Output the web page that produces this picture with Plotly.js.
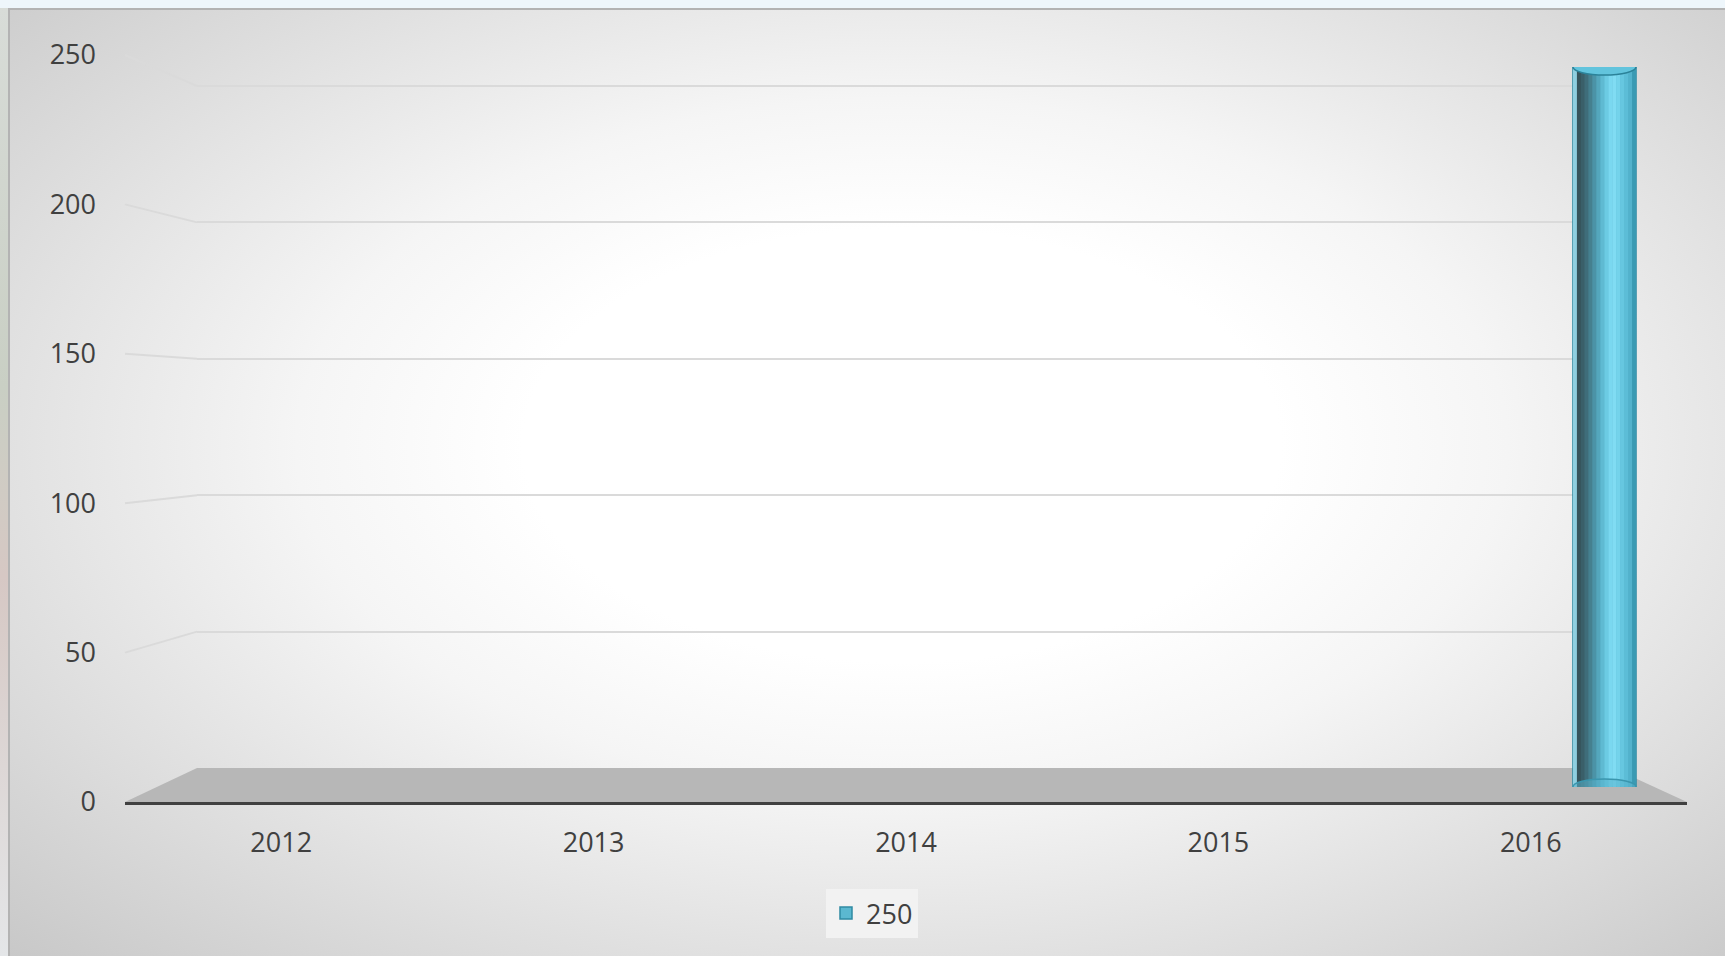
<!DOCTYPE html>
<html>
<head>
<meta charset="utf-8">
<script src="https://cdn.plot.ly/plotly-3.0.1.min.js"></script>
<style>
  html, body { margin: 0; padding: 0; width: 1725px; height: 956px; overflow: hidden; background: #eef6fb; }
  #leftStrip { position: absolute; left: 0; top: 8px; width: 8px; height: 948px; background: linear-gradient(#d8dcd8, #c9cfc4 40%, #d6c8c4 60%, #e4e6e8); }
  #frame {
    position: absolute; left: 8px; top: 8px; width: 1717px; height: 948px;
    border-top: 2px solid #b3b3b3; border-left: 2px solid #b3b3b3; box-sizing: border-box;
    background: radial-gradient(ellipse farthest-corner at 52% 46%, #ffffff 0%, #ffffff 30%, #f5f5f5 48%, #e2e2e2 70%, #c8c8c8 100%);
  }
  #chart { position: absolute; left: 0; top: 0; width: 1725px; height: 956px; }
</style>
</head>
<body>
<div id="leftStrip"></div>
<div id="frame"></div>
<div id="chart"></div>
<script>
// chart data
const years = ['2012', '2013', '2014', '2015', '2016'];
const values = [null, null, null, null, 250];
const seriesName = '250';
const yTicks = [0, 50, 100, 150, 200, 250];
const yMax = 250;

const W = 1725, H = 956;
const px = x => x / W;
const py = y => 1 - y / H;

// pseudo-3d geometry (page pixels)
const front = { left: 125, right: 1687, zero: 802, top: 55 };
const back = { left: 197, right: 1613, zero: 768, top: 86 };
const cyl = { zero: 787, top: 67, offset: 0.135, width: 0.2017 };

const font = { family: 'Open Sans, sans-serif', size: 27, color: '#404040' };

const frontY = v => front.zero - v * (front.zero - front.top) / yMax;
const backY = v => back.zero - v * (back.zero - back.top) / yMax;
const backPad = 3; // keep the top gridline inside the axis range

// cylinder shading, left to right
const shades = ['#8fcfe0', '#36545c', '#3a5f69', '#3f6d7a', '#45808f', '#4b93a7', '#54a7bd', '#5fbad2',
                '#6ccbe3', '#7ad8f0', '#80dcf3', '#74d3eb', '#66c7e0', '#5cbdd7', '#52b2cc', '#3a9ab3'];

let data = [
    // front axes (labels) and back wall (grid) need a trace each to be drawn
    { type: 'scatter', x: years, y: values, mode: 'none', xaxis: 'x', yaxis: 'y', showlegend: false, hoverinfo: 'skip' },
    { type: 'scatter', x: years, y: values, mode: 'none', xaxis: 'x2', yaxis: 'y2', showlegend: false, hoverinfo: 'skip' },
    {
        type: 'bar', x: years, y: values, name: seriesName,
        xaxis: 'x3', yaxis: 'y3',
        offset: cyl.offset, width: cyl.width,
        marker: { color: '#5bb8d0', line: { color: '#2f8aa3', width: 1.5 } },
        hoverinfo: 'skip',
    },
];
const n = shades.length;
for (let k = 0; k < n; ++k) {
    data.push({
        type: 'bar', x: years, y: values, showlegend: false,
        xaxis: 'x3', yaxis: 'y3',
        offset: cyl.offset + k * cyl.width / n, width: cyl.width / n + 0.0005,
        marker: { color: shades[k], line: { width: 0 } },
        hoverinfo: 'skip',
    });
}

let shapes = [];
// floor
shapes.push({
    type: 'path', xref: 'paper', yref: 'paper', layer: 'below',
    path: 'M' + px(front.left) + ',' + py(front.zero) + ' L' + px(back.left) + ',' + py(back.zero) +
          ' L' + px(back.right) + ',' + py(back.zero) + ' L' + px(front.right) + ',' + py(front.zero) + ' Z',
    fillcolor: '#b7b7b7', line: { width: 0 },
});
// side-wall gridline connectors
yTicks.forEach(v => {
    if (v === 0) return;
    shapes.push({
        type: 'line', xref: 'paper', yref: 'paper', layer: 'below',
        x0: px(front.left), y0: py(frontY(v)), x1: px(back.left), y1: py(backY(v)),
        line: { color: '#dadada', width: 2 },
    });
});
// cylinder caps
years.forEach((yr, i) => {
    if (values[i] == null) return;
    shapes.push({
        type: 'circle', xref: 'x3', yref: 'y3', layer: 'above',
        ysizemode: 'pixel', yanchor: 0, y0: -8, y1: 8,
        x0: i + cyl.offset, x1: i + cyl.offset + cyl.width,
        fillcolor: 'rgba(88,178,204,0.55)', line: { color: '#3a96ae', width: 1.5 },
    });
    shapes.push({
        type: 'circle', xref: 'x3', yref: 'y3', layer: 'above',
        ysizemode: 'pixel', yanchor: values[i], y0: -8, y1: 8,
        x0: i + cyl.offset, x1: i + cyl.offset + cyl.width,
        fillcolor: '#62c4dd', line: { color: '#2b8299', width: 1.5 },
    });
});

const layout = {
    width: W, height: H,
    margin: { l: 0, r: 0, t: 0, b: 0, pad: 0 },
    paper_bgcolor: 'rgba(0,0,0,0)',
    plot_bgcolor: 'rgba(0,0,0,0)',
    font: font,
    barmode: 'overlay',
    showlegend: true,
    legend: {
        x: px(826), y: py(889), xanchor: 'left', yanchor: 'top',
        bgcolor: '#f2f2f2', borderwidth: 0, font: font,
    },
    xaxis: {
        domain: [px(front.left), px(front.right)], range: [-0.5, 4.5],
        type: 'category', anchor: 'y',
        showgrid: false, zeroline: false, ticks: '',
        showline: true, linecolor: '#404040', linewidth: 3,
        ticklabelstandoff: 15, tickfont: font, fixedrange: true,
    },
    yaxis: {
        domain: [py(front.zero), py(front.top)], range: [0, yMax], anchor: 'x',
        tickvals: yTicks, showgrid: false, zeroline: false, showline: false, ticks: '',
        ticklabelstandoff: 28, tickfont: font, fixedrange: true,
    },
    xaxis2: {
        domain: [px(back.left), px(back.right)], range: [-0.5, 4.5], anchor: 'y2', type: 'category',
        showgrid: false, zeroline: false, showline: false, showticklabels: false, ticks: '',
    },
    yaxis2: {
        domain: [py(back.zero), py(backY(yMax + backPad))], range: [0, yMax + backPad], anchor: 'x2',
        tickvals: yTicks, showgrid: true, gridcolor: '#dadada', gridwidth: 2,
        zeroline: false, showline: false, showticklabels: false, ticks: '',
    },
    xaxis3: {
        domain: [px(front.left), px(front.right)], range: [-0.5, 4.5], anchor: 'y3',
        type: 'category', visible: false,
    },
    yaxis3: {
        domain: [py(cyl.zero), py(cyl.top)], range: [0, yMax], anchor: 'x3',
        visible: false,
    },
    shapes: shapes,
};

Plotly.newPlot('chart', data, layout, { staticPlot: true });
</script>
</body>
</html>
